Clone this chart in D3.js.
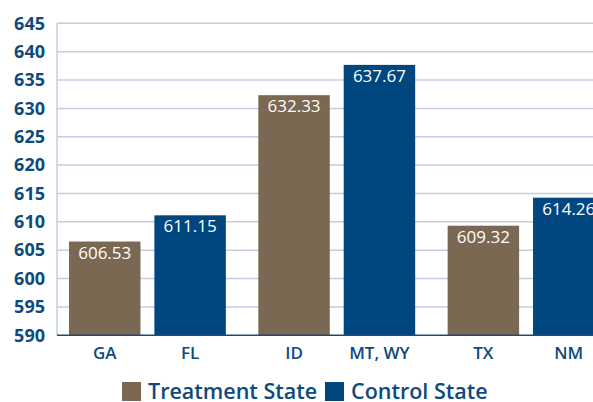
<!DOCTYPE html>
<html>
<head>
<meta charset="utf-8">
<script src="https://cdn.jsdelivr.net/npm/d3@7"></script>
<style>
  body { margin: 0; background: #fff; }
  svg { display: block; font-family: "Open Sans", sans-serif; }
</style>
</head>
<body>
<svg width="593" height="402"></svg>
<script>
// data
var groups = ['GA/FL', 'ID/MT', 'TX/NM']
var treatLabels = ['GA', 'ID', 'TX']
var controlLabels = ['FL', 'MT, WY', 'NM']
var treatment = [606.53, 632.33, 609.32]
var control = [611.15, 637.67, 614.26]
var yTicks = [590, 595, 600, 605, 610, 615, 620, 625, 630, 635, 640, 645]
var series = ['Treatment State', 'Control State']

var colors = { 'Treatment State': '#7a6852', 'Control State': '#00467f' }
var textBlue = '#0f4a7c'

var svg = d3.select('svg')
var plotL = 57, plotR = 593, plotT = 23.3, plotB = 335.3

var y = d3.scaleLinear().domain([590, 645]).range([plotB, plotT])

var x0 = d3.scaleBand().domain(groups).range([69, 604.5]).paddingInner(0.1715).paddingOuter(0)
var x1 = d3.scaleBand().domain(series).range([0, x0.bandwidth()]).paddingInner(0.163)

// grid
svg.append('g')
  .selectAll('line')
  .data(yTicks.slice(1))
  .enter().append('line')
  .attr('x1', plotL).attr('x2', plotR)
  .attr('y1', function (d) { return y(d) }).attr('y2', function (d) { return y(d) })
  .attr('stroke', '#c3cde2').attr('stroke-width', 1.5)

svg.append('line')
  .attr('x1', plotL).attr('x2', plotL)
  .attr('y1', plotT).attr('y2', plotB)
  .attr('stroke', '#c3cde2').attr('stroke-width', 1.5)

// y axis labels
var yAxis = d3.axisLeft(y).tickValues(yTicks).tickSize(0).tickPadding(12)
var ya = svg.append('g').attr('transform', 'translate(' + plotL + ',0)').call(yAxis)
ya.select('.domain').remove()
ya.selectAll('text')
  .attr('fill', textBlue)
  .style('font-size', '18px')
  .style('font-weight', 'bold')
  .style('font-family', '"Open Sans", sans-serif')

var rows = []
groups.forEach(function (g, i) {
  rows.push({ g: g, s: 'Treatment State', v: treatment[i], label: treatLabels[i] })
  rows.push({ g: g, s: 'Control State', v: control[i], label: controlLabels[i] })
})

var bars = svg.append('g').selectAll('g')
  .data(rows).enter().append('g')
  .attr('transform', function (d) { return 'translate(' + (x0(d.g) + x1(d.s)) + ',0)' })

bars.append('rect')
  .attr('y', function (d) { return y(d.v) })
  .attr('width', x1.bandwidth())
  .attr('height', function (d) { return plotB - y(d.v) })
  .attr('fill', function (d) { return colors[d.s] })

bars.append('text')
  .attr('x', x1.bandwidth() / 2)
  .attr('y', function (d) { return y(d.v) + 17 })
  .attr('text-anchor', 'middle')
  .attr('fill', '#fff')
  .style('font-size', '17px')
  .style('font-weight', 500)
  .text(function (d) { return d.v.toFixed(2) })

bars.append('text')
  .attr('x', x1.bandwidth() / 2)
  .attr('y', 359)
  .attr('text-anchor', 'middle')
  .attr('fill', textBlue)
  .style('font-size', '17px')
  .style('font-weight', 600)
  .text(function (d) { return d.label })

// baseline
svg.append('line')
  .attr('x1', plotL).attr('x2', plotR)
  .attr('y1', plotB).attr('y2', plotB)
  .attr('stroke', '#1f4a78').attr('stroke-width', 1.5)

// legend
var leg = svg.append('g').selectAll('g')
  .data(series).enter().append('g')
  .attr('transform', function (d, i) { return 'translate(' + (i ? 325 : 122) + ',382)' })

leg.append('rect')
  .attr('width', 19).attr('height', 19)
  .attr('fill', function (d) { return colors[d] })

leg.append('text')
  .attr('x', 26).attr('y', 17)
  .attr('fill', textBlue)
  .style('font-size', '21.5px')
  .style('font-weight', 600)
  .text(function (d) { return d })
</script>
</body>
</html>
